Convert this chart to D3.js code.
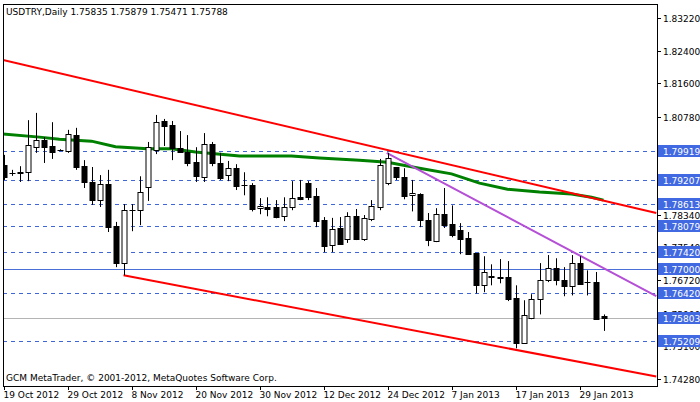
<!DOCTYPE html>
<html><head><meta charset="utf-8">
<script src="https://cdn.jsdelivr.net/npm/d3@7"></script>
<style>body{margin:0;background:#fff}svg{display:block}text{font-family:"DejaVu Sans",sans-serif;font-size:9px}</style>
</head><body><svg id="c" width="700" height="402"></svg>
<script>
const candles = [
[1.7958,1.7983,1.7921,1.7928],[1.7938,1.7946,1.7931,1.7938],[1.7941,1.7955,1.7916,1.7938],[1.7941,1.8069,1.7918,1.8007],
[1.8003,1.8087,1.7988,1.8020],[1.8020,1.8027,1.7963,1.8003],[1.8005,1.8064,1.7973,1.7990],[1.7995,1.7997,1.7993,1.7995],
[1.7993,1.8045,1.7988,1.8035],[1.8032,1.8050,1.7946,1.7953],[1.7955,1.7970,1.7901,1.7916],[1.7916,1.7953,1.7859,1.7871],
[1.7871,1.7933,1.7854,1.7911],[1.7911,1.7946,1.7792,1.7804],[1.7807,1.7817,1.7705,1.7715],[1.7715,1.7861,1.7685,1.7846],
[1.7846,1.7861,1.7794,1.7846],[1.7846,1.7930,1.7809,1.7891],[1.7903,1.8015,1.7869,1.8003],[1.7995,1.8082,1.7985,1.8064],
[1.8067,1.8072,1.8005,1.8055],[1.8057,1.8067,1.7970,1.8000],[1.8000,1.8042,1.7988,1.7990],[1.7990,1.8032,1.7955,1.7963],
[1.7965,1.8002,1.7916,1.7931],[1.7928,1.8037,1.7916,1.8010],[1.8010,1.8015,1.7955,1.7963],[1.7963,1.7988,1.7921,1.7926],
[1.7933,1.7968,1.7918,1.7950],[1.7950,1.7960,1.7896,1.7906],[1.7908,1.7940,1.7883,1.7908],[1.7908,1.7913,1.7843,1.7848],
[1.7851,1.7876,1.7836,1.7856],[1.7853,1.7878,1.7831,1.7848],[1.7853,1.7871,1.7826,1.7828],[1.7831,1.7878,1.7819,1.7853],
[1.7853,1.7918,1.7846,1.7876],[1.7878,1.7921,1.7871,1.7873],[1.7913,1.7918,1.7871,1.7878],[1.7881,1.7901,1.7804,1.7819],
[1.7822,1.7829,1.7742,1.7757],[1.7760,1.7827,1.7742,1.7799],[1.7802,1.7829,1.7760,1.7762],[1.7775,1.7841,1.7765,1.7832],
[1.7832,1.7849,1.7772,1.7775],[1.7775,1.7834,1.7770,1.7827],[1.7824,1.7871,1.7819,1.7856],[1.7853,1.7973,1.7846,1.7958],
[1.7913,1.7988,1.7908,1.7975],[1.7953,1.7953,1.7921,1.7928],[1.7928,1.7950,1.7873,1.7881],[1.7883,1.7921,1.7843,1.7888],
[1.7886,1.7888,1.7804,1.7822],[1.7822,1.7839,1.7757,1.7772],[1.7770,1.7851,1.7767,1.7836],[1.7836,1.7901,1.7802,1.7809],
[1.7811,1.7858,1.7779,1.7784],[1.7797,1.7814,1.7737,1.7775],[1.7777,1.7792,1.7737,1.7737],[1.7740,1.7740,1.7640,1.7660],
[1.7660,1.7732,1.7643,1.7692],[1.7682,1.7712,1.7660,1.7680],[1.7680,1.7725,1.7665,1.7678],[1.7680,1.7720,1.7621,1.7626],
[1.7628,1.7660,1.7504,1.7517],[1.7517,1.7623,1.7517,1.7586],[1.7579,1.7638,1.7576,1.7626],[1.7626,1.7715,1.7588,1.7673],
[1.7673,1.7735,1.7668,1.7702],[1.7702,1.7727,1.7660,1.7673],[1.7673,1.7705,1.7633,1.7658],[1.7658,1.7735,1.7635,1.7715],
[1.7715,1.7732,1.7663,1.7663],[1.7668,1.7697,1.7635,1.7668],[1.7668,1.7693,1.7576,1.7576],[1.75835,1.75879,1.75471,1.75788]
];
const maPoints = [[-0.4,1.8035],[4.5,1.8027],[7,1.8022],[11,1.8017],[14,1.8003],[18,1.7998],[21,1.7998],[24,1.7990],[29.5,1.7980],[36,1.7980],[39.5,1.7975],[44.5,1.7970],[48,1.7965],[52,1.7950],[56,1.7936],[59.5,1.7913],[63,1.7898],[67,1.7891],[71,1.7886],[73.5,1.7878],[75,1.7871]];
const upperLine = [[-0.06,1.8218],[81.6,1.7839]];
const lowerLine = [[15,1.7685],[81.6,1.7434]];
const purpleLine = [[47.9,1.7988],[81.6,1.7633]];
const dashedLevels = [1.79919,1.79207,1.78613,1.78079,1.77420,1.76420,1.75209];
const solidLevel = 1.77000;
const bidLevel = 1.75803;
const plainTicks = ["1.83220","1.82400","1.81600","1.80780","1.78340","1.77540","1.76720","1.75900","1.75100","1.74280"];
const dateLabels = [[0,"19 Oct 2012"],[8,"29 Oct 2012"],[16,"8 Nov 2012"],[24,"20 Nov 2012"],[32,"30 Nov 2012"],[40,"12 Dec 2012"],[48,"24 Dec 2012"],[56,"7 Jan 2013"],[64,"17 Jan 2013"],[72,"29 Jan 2013"]];
const title = "USDTRY,Daily  1.75835 1.75879 1.75471 1.75788";
const copyright = "GCM MetaTrader, © 2001-2012, MetaQuotes Software Corp.";

const svg = d3.select("#c");
const L=3, R=657, T=4, B=386;
const x = d3.scaleLinear().domain([0,81.6]).range([3.5,656.3]);
const y = d3.scaleLinear().domain([1.7428,1.8322]).range([379,18]);
const clip = svg.append("clipPath").attr("id","pc").append("rect").attr("x",L).attr("y",T).attr("width",R-L).attr("height",B-T);
const g = svg.append("g").attr("clip-path","url(#pc)");
const blue="#3f66d9";
dashedLevels.forEach(v=>g.append("line").attr("x1",L).attr("x2",R).attr("y1",Math.round(y(v))+.5).attr("y2",Math.round(y(v))+.5).attr("stroke",blue).attr("stroke-dasharray","4,4"));
g.append("line").attr("x1",L).attr("x2",R).attr("y1",Math.round(y(solidLevel))+.5).attr("y2",Math.round(y(solidLevel))+.5).attr("stroke","#4a6fd6");
g.append("line").attr("x1",L).attr("x2",R).attr("y1",Math.round(y(bidLevel))+.5).attr("y2",Math.round(y(bidLevel))+.5).attr("stroke","#b4b4b4");
const ln = d3.line().x(d=>x(d[0])).y(d=>y(d[1]));
g.append("path").attr("d",ln(maPoints)).attr("fill","none").attr("stroke","#008000").attr("stroke-width",3);
g.append("path").attr("d",ln(upperLine)).attr("stroke","#ff0000").attr("stroke-width",2);
g.append("path").attr("d",ln(lowerLine)).attr("stroke","#ff0000").attr("stroke-width",2);
g.append("path").attr("d",ln(purpleLine)).attr("stroke","#b44fd6").attr("stroke-width",2);
candles.forEach((c,i)=>{
  const cx=Math.round(x(i))+.5; const [o,h,l,cl]=c;
  g.append("line").attr("x1",cx).attr("x2",cx).attr("y1",y(h)).attr("y2",y(l)).attr("stroke","#000");
  const top=Math.round(y(Math.max(o,cl))), bot=Math.round(y(Math.min(o,cl)));
  if(bot-top<1){ g.append("line").attr("x1",cx-3).attr("x2",cx+3).attr("y1",top+.5).attr("y2",top+.5).attr("stroke","#000"); }
  else g.append("rect").attr("x",cx-2.5).attr("y",top+.5).attr("width",5).attr("height",bot-top).attr("fill",cl<o?"#000":"#fff").attr("stroke","#000");
});
// frame
svg.append("rect").attr("x",L+.5).attr("y",T+.5).attr("width",R-L).attr("height",B-T).attr("fill","none").attr("stroke","#000");
// right axis
plainTicks.forEach(t=>{const yy=Math.round(y(+t))+.5;
  svg.append("line").attr("x1",R).attr("x2",R+4).attr("y1",yy).attr("y2",yy).attr("stroke","#000");
  svg.append("text").attr("x",663).attr("y",yy+3.5).text(t);});
[...dashedLevels,solidLevel,bidLevel].forEach(v=>{const yy=Math.round(y(v));
  svg.append("rect").attr("x",R+1).attr("y",yy-6).attr("width",43).attr("height",12).attr("fill","#4169e1");
  svg.append("text").attr("x",663).attr("y",yy+3.5).attr("fill","#fff").text(v.toFixed(5));});
// bottom axis
dateLabels.forEach(([i,t])=>{const xx=Math.round(x(i))+.5;
  svg.append("line").attr("x1",xx).attr("x2",xx).attr("y1",B).attr("y2",B+4).attr("stroke","#000");
  svg.append("text").attr("x",xx-1).attr("y",398).text(t);});
svg.append("text").attr("x",6).attr("y",15).text(title);
svg.append("text").attr("x",6).attr("y",381).text(copyright);
</script></body></html>
